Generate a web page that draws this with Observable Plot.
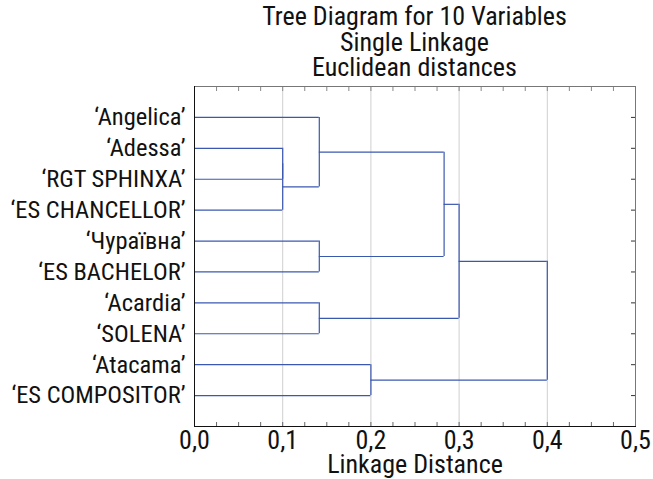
<!DOCTYPE html>
<html><head><meta charset="utf-8">
<script src="https://cdn.jsdelivr.net/npm/d3@7"></script>
<script src="https://cdn.jsdelivr.net/npm/@observablehq/plot@0.6"></script>
<style>
body{margin:0;background:#fff;font-family:"Roboto Condensed",sans-serif;}
#title{position:absolute;left:194px;top:4px;width:441px;text-align:center;font-size:26px;line-height:25.5px;color:#111;}
#chart{position:absolute;left:0;top:80px;}
</style></head><body>
<div id="title">Tree Diagram for 10 Variables<br>Single Linkage<br>Euclidean distances</div>
<div id="chart"></div>
<script>
const leaves = ["‘Angelica’","‘Adessa’","‘RGT SPHINXA’","‘ES CHANCELLOR’","‘Чураївна’","‘ES BACHELOR’","‘Acardia’","‘SOLENA’","‘Atacama’","‘ES COMPOSITOR’"];
// merges: child indices (0-9 = leaves, 10+ = earlier merges in order) and joining distance
const mergeA = [1, 10, 0, 4, 12, 6, 14, 8, 16];
const mergeB = [2, 3, 11, 5, 13, 7, 15, 9, 17];
const mergeHeight = [0.1, 0.1, 0.1415, 0.1415, 0.283, 0.1415, 0.3, 0.2, 0.4];
const xTicks = [0, 0.1, 0.2, 0.3, 0.4, 0.5];
const gridTicks = [0.1, 0.2, 0.3, 0.4];

const nodeY = leaves.map((_, i) => i);
const nodeH = leaves.map(() => 0);
const hSegs = [], vSegs = [];
mergeA.forEach((a, k) => {
  const b = mergeB[k], h = mergeHeight[k];
  hSegs.push({x1: nodeH[a], x2: h, y: nodeY[a]});
  hSegs.push({x1: nodeH[b], x2: h, y: nodeY[b]});
  vSegs.push({x: h, y1: nodeY[a], y2: nodeY[b]});
  nodeY.push((nodeY[a] + nodeY[b]) / 2);
  nodeH.push(h);
});
const minor = d3.range(0, 0.5001, 0.025);
const lineColor = "#3b58b0";
const fmt = d => d.toFixed(1).replace(".", ",");

const chart = Plot.plot({
  width: 653, height: 399,
  marginTop: 6, marginBottom: 53, marginLeft: 194, marginRight: 18,
  style: {fontFamily: '"Roboto Condensed",sans-serif', fontSize: "24.5px", color: "#111", background: "#fff", overflow: "visible"},
  x: {domain: [0, 0.5]},
  y: {domain: [-1, 10], reverse: true},
  marks: [
    Plot.ruleX(gridTicks, {stroke: "#cfcfcf", strokeWidth: 1}),
    Plot.ruleY(hSegs, {y: "y", x1: "x1", x2: "x2", stroke: lineColor, strokeWidth: 1.2}),
    Plot.ruleX(vSegs, {x: "x", y1: "y1", y2: "y2", stroke: lineColor, strokeWidth: 1.2}),
    Plot.axisY(d3.range(leaves.length), {anchor: "left", tickFormat: i => leaves[i], tickSize: 0, tickPadding: 9, label: null}),
    Plot.axisY(d3.range(leaves.length), {anchor: "right", tickFormat: () => "", tickSize: -5, label: null, stroke: "#333"}),
    Plot.axisX(minor, {anchor: "bottom", tickFormat: () => "", tickSize: -4, label: null, stroke: "#666"}),
    Plot.axisX(minor, {anchor: "top", tickFormat: () => "", tickSize: -4, label: null, stroke: "#888"}),
    Plot.axisX(xTicks, {anchor: "bottom", tickFormat: fmt, tickSize: 0, tickPadding: 4, fontSize: 26, label: "Linkage Distance", labelAnchor: "center", labelArrow: "none", labelOffset: 46}),
    Plot.frame({stroke: "#777"}),
    Plot.frame({anchor: "left", stroke: "#111"}),
    Plot.frame({anchor: "bottom", stroke: "#111"})
  ]
});
document.getElementById("chart").append(chart);
</script>
</body></html>
